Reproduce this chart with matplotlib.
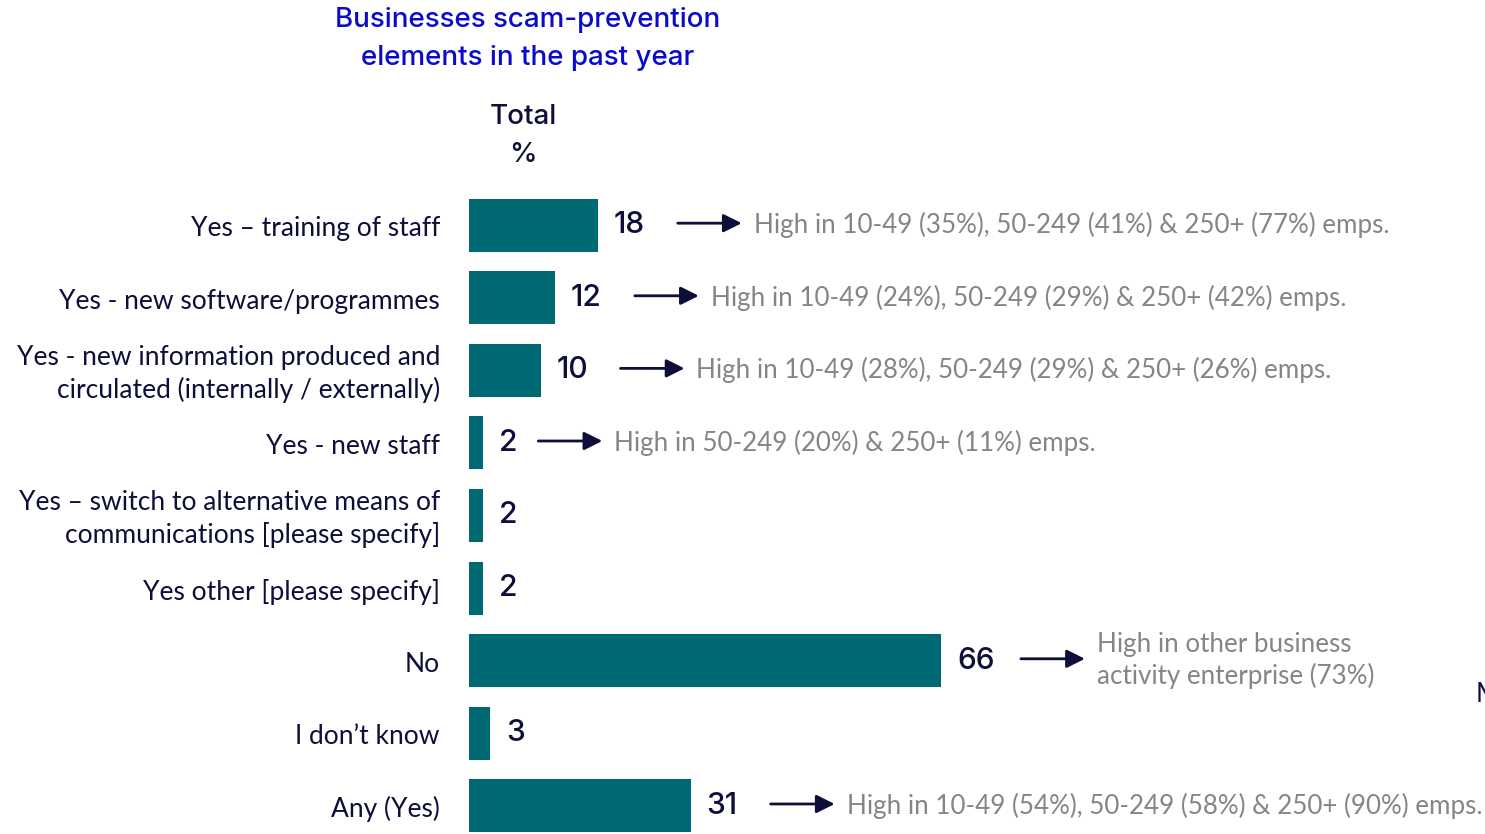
import matplotlib
matplotlib.use("Agg")
from matplotlib import pyplot as plt

categories = [
    "Yes \u2013 training of staff",
    "Yes - new software/programmes",
    "Yes - new information produced and\ncirculated (internally / externally)",
    "Yes - new staff",
    "Yes \u2013 switch to alternative means of\ncommunications [please specify]",
    "Yes other [please specify]",
    "No",
    "I don\u2019t know",
    "Any (Yes)",
]
values = [18, 12, 10, 2, 2, 2, 66, 3, 31]
notes = [
    "High in 10-49 (35%), 50-249 (41%) & 250+ (77%) emps.",
    "High in 10-49 (24%), 50-249 (29%) & 250+ (42%) emps.",
    "High in 10-49 (28%), 50-249 (29%) & 250+ (26%) emps.",
    "High in 50-249 (20%) & 250+ (11%) emps.",
    None,
    None,
    "High in other business\nactivity enterprise (73%)",
    None,
    "High in 10-49 (54%), 50-249 (58%) & 250+ (90%) emps.",
]

TEAL = "#006A74"
NAVY = "#0E0E3A"
GREY = "#858585"
BLUE = "#0A0ACC"

W, H = 1485, 834
fig = plt.figure(figsize=(W / 100, H / 100), dpi=100)
ax = fig.add_axes([0, 0, 1, 1])
ax.set_axis_off()

# pixel layout: bars start at x=469, 7.15 px per %, rows 72.6 px apart from y=225
PX = 7.15
ROW = 72.6
ax.set_xlim(-469 / PX, (W - 469) / PX)
ax.set_ylim((H - 225) / ROW, -225 / ROW)

pt = 0.72  # points per pixel at 100 dpi

y = list(range(len(values)))
ax.barh(y, values, height=53 / ROW, color=TEAL, left=0)

for i, (cat, v, note) in enumerate(zip(categories, values, notes)):
    ax.annotate(cat, (0, i + 0.05), xytext=(-29 * pt, 0), textcoords="offset points",
                ha="right", va="center", fontsize=19, color=NAVY,
                family="Lato", linespacing=1.3)
    ax.annotate(str(v), (v, i), xytext=(16 * pt, 0), textcoords="offset points",
                ha="left", va="center", fontsize=21.5, color=NAVY,
                family="Inter", weight="medium")
    if note is None:
        continue
    start = 80 if v >= 10 else 55
    ax.annotate("", xy=(v + (start + 64) / PX, i - 0.025),
                xytext=(v + start / PX, i - 0.025),
                arrowprops=dict(arrowstyle="-|>,head_length=1.1,head_width=0.55",
                                color=NAVY, lw=2, shrinkA=0, shrinkB=0))
    ax.annotate(note, (v + (start + 76) / PX, i),
                ha="left", va="center", fontsize=18.7, color=GREY,
                family="Lato", linespacing=1.3)

# headers
fig.text(528 / W, 1 - 39 / H, "Businesses scam-prevention\nelements in the past year",
         ha="center", va="center", fontsize=20, color=BLUE, family="Inter",
         weight="medium", linespacing=1.6)
fig.text(523 / W, 1 - 136 / H, "Total\n%", ha="center", va="center",
         fontsize=20, color=NAVY, family="Inter", weight="medium",
         linespacing=1.6)
fig.text(1476 / W, 1 - 694 / H, "M", ha="left", va="center",
         fontsize=19, color=NAVY, family="Lato")

fig.savefig("out.png", dpi=100)
